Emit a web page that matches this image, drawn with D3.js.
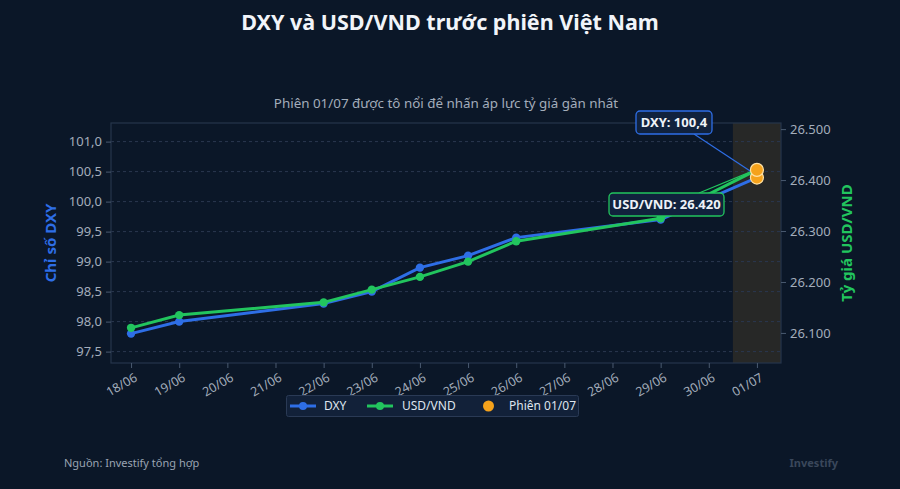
<!DOCTYPE html>
<html>
<head>
<meta charset="utf-8">
<script src="https://cdn.jsdelivr.net/npm/d3@7"></script>
<style>
  html, body { margin: 0; padding: 0; background: #0b1728; }
  svg { display: block; font-family: "Noto Sans", "Open Sans", sans-serif; }
</style>
</head>
<body>
<svg id="chart" width="900" height="489"></svg>
<script>
// data
var dates = ["2025-06-18", "2025-06-19", "2025-06-22", "2025-06-23", "2025-06-24",
             "2025-06-25", "2025-06-26", "2025-06-29", "2025-07-01"];
var dxy = [97.8, 98.0, 98.3, 98.5, 98.9, 99.1, 99.4, 99.7, 100.4];
var usdvnd = [26110, 26135, 26160, 26185, 26210, 26240, 26280, 26325, 26420];
var dxyTicks = [97.5, 98.0, 98.5, 99.0, 99.5, 100.0, 100.5, 101.0];
var vndTicks = [26100, 26200, 26300, 26400, 26500];

var parse = d3.timeParse("%Y-%m-%d");
var days = dates.map(parse);

var svg = d3.select("#chart");
var W = 900, H = 489;
var m = {left: 111, right: 781, top: 123, bottom: 363};

svg.append("rect").attr("width", W).attr("height", H).attr("fill", "#0b1728");

var x = d3.scaleTime()
    .domain([d3.timeHour.offset(parse("2025-06-18"), -9.3), d3.timeHour.offset(parse("2025-07-01"), 12)])
    .range([m.left, m.right]);
var yL = d3.scaleLinear().domain([97.31, 101.31]).range([m.bottom, m.top]);
var yR = d3.scaleLinear().domain([26041, 26512]).range([m.bottom, m.top]);

var numL = d3.format(".1f");
var fmtL = function(v) { return numL(v).replace(".", ","); };
var fmtR = function(v) { return d3.format(",")(v).replace(/,/g, "."); };

// highlight band for 01/07
var bandStart = x(d3.timeHour.offset(parse("2025-06-30"), 12));
svg.append("rect")
    .attr("x", bandStart)
    .attr("y", m.top)
    .attr("width", m.right - bandStart)
    .attr("height", m.bottom - m.top)
    .attr("fill", "rgba(245,166,35,0.12)");

// gridlines
svg.append("g").selectAll("line").data(dxyTicks).join("line")
    .attr("x1", m.left).attr("x2", m.right)
    .attr("y1", d => yL(d)).attr("y2", d => yL(d))
    .attr("stroke", "#2a3850").attr("stroke-dasharray", "3,3").attr("stroke-width", 1);

// frame
svg.append("rect")
    .attr("x", m.left).attr("y", m.top)
    .attr("width", m.right - m.left).attr("height", m.bottom - m.top)
    .attr("fill", "none").attr("stroke", "#26354b").attr("stroke-width", 1.2);

// axes
var axL = svg.append("g").attr("transform", "translate(" + m.left + ",0)")
    .call(d3.axisLeft(yL).tickValues(dxyTicks).tickFormat(fmtL).tickSize(5).tickPadding(4));
var axR = svg.append("g").attr("transform", "translate(" + m.right + ",0)")
    .call(d3.axisRight(yR).tickValues(vndTicks).tickFormat(fmtR).tickSize(5).tickPadding(4));
var axB = svg.append("g").attr("transform", "translate(0," + m.bottom + ")")
    .call(d3.axisBottom(x).ticks(d3.timeDay.every(1)).tickFormat(d3.timeFormat("%d/%m")).tickSize(5).tickPadding(4));

[axL, axR, axB].forEach(function(g) {
  g.select(".domain").remove();
  g.selectAll(".tick line").attr("stroke", "#4a5a70");
  g.selectAll("text").attr("fill", "#a3adbb").attr("font-size", 13)
    .attr("font-family", "'Noto Sans', sans-serif");
});
axB.selectAll("text")
    .attr("font-size", 12.5)
    .attr("text-anchor", "end")
    .attr("dy", "0.5em")
    .attr("transform", "translate(-1,4) rotate(-30)");

// lines
var lineL = d3.line().x((d, i) => x(days[i])).y(d => yL(d));
var lineR = d3.line().x((d, i) => x(days[i])).y(d => yR(d));

svg.append("path").datum(dxy).attr("d", lineL)
    .attr("fill", "none").attr("stroke", "#2e6ee6").attr("stroke-width", 3);
svg.append("g").selectAll("circle").data(dxy.slice(0, -1)).join("circle")
    .attr("cx", (d, i) => x(days[i])).attr("cy", d => yL(d)).attr("r", 4.2).attr("fill", "#2e6ee6");

svg.append("path").datum(usdvnd).attr("d", lineR)
    .attr("fill", "none").attr("stroke", "#22c55e").attr("stroke-width", 3);
svg.append("g").selectAll("circle").data(usdvnd.slice(0, -1)).join("circle")
    .attr("cx", (d, i) => x(days[i])).attr("cy", d => yR(d)).attr("r", 4.2).attr("fill", "#22c55e");

var last = days.length - 1;
var px = x(days[last]);
var pyL = yL(dxy[last]);
var pyR = yR(usdvnd[last]);

// annotation connectors
svg.append("line").attr("x1", 694).attr("y1", 134).attr("x2", px - 3).attr("y2", pyL - 4)
    .attr("stroke", "#2e6ee6").attr("stroke-width", 1.2);
svg.append("line").attr("x1", 699).attr("y1", 193).attr("x2", px - 4).attr("y2", pyR + 1)
    .attr("stroke", "#22c55e").attr("stroke-width", 1.2);

// highlighted points
svg.append("circle").attr("cx", px).attr("cy", pyL).attr("r", 6.5)
    .attr("fill", "#f5a21b").attr("stroke", "#ffe2a6").attr("stroke-width", 1.2);
svg.append("circle").attr("cx", px).attr("cy", pyR).attr("r", 6.5)
    .attr("fill", "#f5a21b").attr("stroke", "#ffe2a6").attr("stroke-width", 1.2);

function callout(cx, cy, w, h, txt, col) {
  svg.append("rect").attr("x", cx - w / 2).attr("y", cy - h / 2)
      .attr("width", w).attr("height", h).attr("rx", 4)
      .attr("fill", "#11223d").attr("stroke", col).attr("stroke-width", 1.3);
  svg.append("text").attr("x", cx).attr("y", cy).attr("dy", "0.36em")
      .attr("text-anchor", "middle").attr("fill", "#eef2f8")
      .attr("font-size", 13).attr("font-weight", "bold").text(txt);
}
callout(674, 122.5, 76, 23, "DXY: " + fmtL(dxy[last]), "#2e6ee6");
callout(666.5, 204.5, 115, 23, "USD/VND: " + fmtR(usdvnd[last]), "#22c55e");

// titles
svg.append("text").attr("x", 450).attr("y", 30).attr("text-anchor", "middle")
    .attr("fill", "#f1f4f9").attr("font-size", 21.5).attr("font-weight", "bold")
    .text("DXY và USD/VND trước phiên Việt Nam");
svg.append("text").attr("x", 446).attr("y", 108).attr("text-anchor", "middle")
    .attr("fill", "#a3adbb").attr("font-size", 13.4)
    .text("Phiên 01/07 được tô nổi để nhấn áp lực tỷ giá gần nhất");

svg.append("text").attr("transform", "translate(56,243) rotate(-90)")
    .attr("text-anchor", "middle").attr("fill", "#2e6ee6")
    .attr("font-size", 15).attr("font-weight", "bold").text("Chỉ số DXY");
svg.append("text").attr("transform", "translate(852,243) rotate(-90)")
    .attr("text-anchor", "middle").attr("fill", "#22c55e")
    .attr("font-size", 15).attr("font-weight", "bold").text("Tỷ giá USD/VND");

// legend
var lg = svg.append("g");
lg.append("rect").attr("x", 286.5).attr("y", 395.5).attr("width", 292).attr("height", 21).attr("rx", 2)
    .attr("fill", "#122139").attr("stroke", "#2a3a55").attr("stroke-width", 1);
var items = [
  {label: "DXY", color: "#2e6ee6", kind: "line", x: 290, tx: 324},
  {label: "USD/VND", color: "#22c55e", kind: "line", x: 367, tx: 402},
  {label: "Phiên 01/07", color: "#f5a21b", kind: "dot", x: 482, tx: 509}
];
items.forEach(function(it) {
  if (it.kind === "line") {
    lg.append("line").attr("x1", it.x).attr("x2", it.x + 26).attr("y1", 406).attr("y2", 406)
        .attr("stroke", it.color).attr("stroke-width", 3);
    lg.append("circle").attr("cx", it.x + 13).attr("cy", 406).attr("r", 4).attr("fill", it.color);
  } else {
    lg.append("circle").attr("cx", it.x + 6.5).attr("cy", 406).attr("r", 5.5).attr("fill", it.color);
  }
  lg.append("text").attr("x", it.tx).attr("y", 406).attr("dy", "0.35em")
      .attr("fill", "#dfe5ee").attr("font-size", 12).text(it.label);
});

// footer
svg.append("text").attr("x", 64).attr("y", 467).attr("fill", "#9aa4b2").attr("font-size", 11)
    .text("Nguồn: Investify tổng hợp");
svg.append("text").attr("x", 838).attr("y", 467).attr("text-anchor", "end")
    .attr("fill", "#3a475b").attr("font-size", 11).attr("font-weight", "bold").text("Investify");
</script>
</body>
</html>
